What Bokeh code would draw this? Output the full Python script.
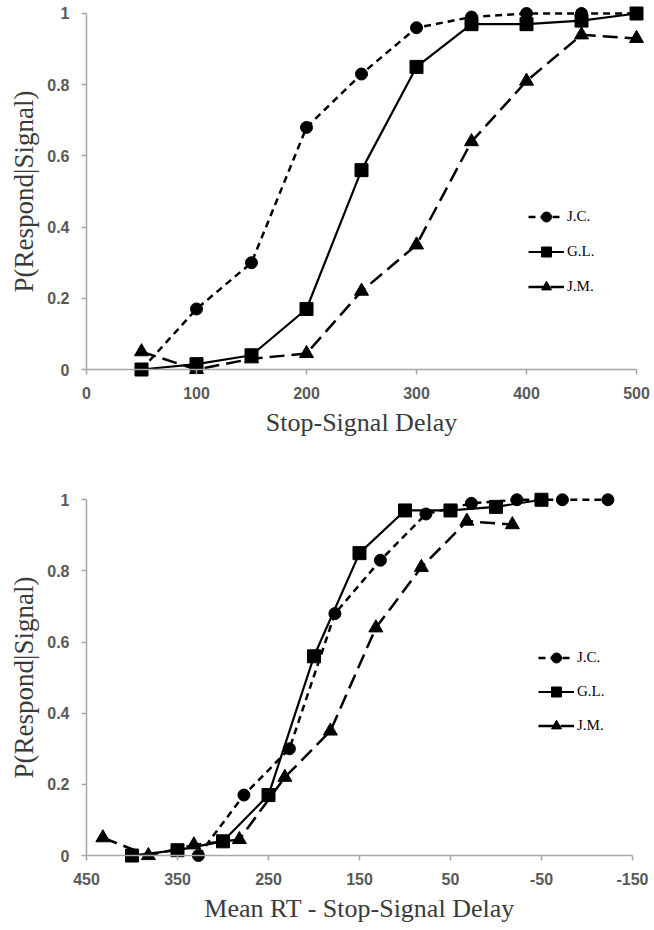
from bokeh.embed import file_html
from bokeh.layouts import column
from bokeh.models import FixedTicker, Legend, LegendItem, NumeralTickFormatter, Range1d
from bokeh.plotting import figure
from bokeh.resources import INLINE

subjects = ["J.C.", "G.L.", "J.M."]

# Stop-signal delays (ms) used for each subject
ssd_jc = [50, 100, 150, 200, 250, 300, 350, 400, 450, 500]
ssd_gl = [50, 100, 150, 200, 250, 300, 350, 400, 450, 500]
ssd_jm = [50, 100, 150, 200, 250, 300, 350, 400, 450, 500]

# Mean RT minus stop-signal delay (ms)
rt_minus_ssd_jc = [327, 277, 227, 177, 127, 77, 27, -23, -73, -123]
rt_minus_ssd_gl = [400, 350, 300, 250, 200, 150, 100, 50, 0, -50]
rt_minus_ssd_jm = [432, 382, 332, 282, 232, 182, 132, 82, 32, -18]

# Probability of responding given a stop signal
p_respond_jc = [0.0, 0.17, 0.30, 0.68, 0.83, 0.96, 0.99, 1.0, 1.0, 1.0]
p_respond_gl = [0.0, 0.015, 0.04, 0.17, 0.56, 0.85, 0.97, 0.97, 0.98, 1.0]
p_respond_jm = [0.05, 0.0, 0.03, 0.045, 0.22, 0.35, 0.64, 0.81, 0.94, 0.93]

top_x_ticks = [0, 100, 200, 300, 400, 500]
bottom_x_ticks = [450, 350, 250, 150, 50, -50, -150]
y_ticks = [0, 0.2, 0.4, 0.6, 0.8, 1]

STYLE = {
    "J.C.": dict(marker="circle", size=12, dash="7 5", width=2.5),
    "G.L.": dict(marker="square", size=13, dash="solid", width=2.2),
    "J.M.": dict(marker="triangle", size=14, dash="15 7", width=2.5),
}

AXIS_GRAY = "#a6a6a6"
TICK_TEXT = "#595959"
TITLE_TEXT = "#3a3a3a"
SERIF = "Liberation Serif"
SANS = "Liberation Sans"


def make_panel(x_series, y_series, x_range, x_bounds, x_ticks, x_title,
               y_axis_at, height, y_range, legend_xy, legend_spacing):
    # the frame fills the whole figure; both axes are pinned in data space
    p = figure(
        width=654, height=height,
        x_range=x_range, y_range=y_range,
        output_backend="svg", toolbar_location=None,
        min_border=0,
    )
    p.outline_line_color = None
    p.grid.visible = False
    p.background_fill_color = "white"
    p.border_fill_color = "white"

    items = []
    for name, xs, ys in zip(subjects, x_series, y_series):
        st = STYLE[name]
        ln = p.line(xs, ys, line_color="black", line_width=st["width"],
                    line_dash=st["dash"])
        sc = p.scatter(xs, ys, marker=st["marker"], size=st["size"],
                       fill_color="black", line_color="black")
        items.append(LegendItem(label=name, renderers=[ln, sc]))

    xa = p.xaxis[0]
    xa.fixed_location = 0
    xa.bounds = x_bounds
    xa.ticker = FixedTicker(ticks=x_ticks)
    xa.major_label_overrides = {t: str(t) for t in x_ticks}
    xa.axis_label = x_title
    xa.axis_label_text_font_size = "26px"
    xa.axis_label_standoff = 6
    xa.major_label_standoff = 12

    ya = p.yaxis[0]
    ya.fixed_location = y_axis_at
    ya.bounds = (0, 1)
    ya.ticker = FixedTicker(ticks=y_ticks)
    ya.formatter = NumeralTickFormatter(format="0.[0]")
    ya.axis_label = "P(Respond|Signal)"
    ya.axis_label_text_font_size = "27px"
    ya.axis_label_standoff = 5
    ya.major_label_standoff = 12

    for ax in (xa, ya):
        ax.axis_label_text_font = SERIF
        ax.axis_label_text_font_style = "normal"
        ax.axis_label_text_color = TITLE_TEXT
        ax.axis_line_color = AXIS_GRAY
        ax.axis_line_width = 1.5
        ax.major_tick_line_color = AXIS_GRAY
        ax.major_tick_line_width = 1.5
        ax.major_tick_out = 5
        ax.major_tick_in = 0
        ax.minor_tick_line_color = None
        ax.major_label_text_font = SANS
        ax.major_label_text_font_style = "bold"
        ax.major_label_text_font_size = "16px"
        ax.major_label_text_color = TICK_TEXT

    legend = Legend(
        items=items, location=legend_xy,
        glyph_width=36, glyph_height=25, spacing=legend_spacing,
        label_standoff=3, padding=0, margin=0,
        label_text_font=SERIF, label_text_font_size="15px",
        label_text_color="black",
        border_line_color=None, background_fill_alpha=0,
    )
    p.add_layout(legend)
    return p


top = make_panel(
    [ssd_jc, ssd_gl, ssd_jm],
    [p_respond_jc, p_respond_gl, p_respond_jm],
    Range1d(-78.18, 516.36), (0, 500), top_x_ticks, "Stop-Signal Delay",
    0, 440, Range1d(-0.1994, 1.0365), (528, 141), 10,
)

bottom = make_panel(
    [rt_minus_ssd_jc, rt_minus_ssd_gl, rt_minus_ssd_jm],
    [p_respond_jc, p_respond_gl, p_respond_jm],
    Range1d(544.5, -174.2), (-150, 450), bottom_x_ticks,
    "Mean RT - Stop-Signal Delay",
    450, 490, Range1d(-0.2107, 1.1666), (538, 192), 9,
)

layout = column(top, bottom, spacing=0)
open("out.html", "w").write(file_html(layout, INLINE))
